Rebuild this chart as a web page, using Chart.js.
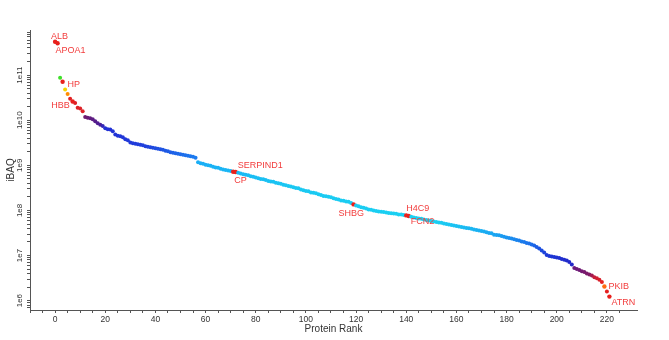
<!DOCTYPE html>
<html lang="en">
<head>
  <meta charset="UTF-8" />
  <title>iBAQ by Protein Rank</title>
  <script src="https://cdn.jsdelivr.net/npm/chart.js"></script>
  <style>
    body { margin: 0; padding: 0; background: #fff; }
    canvas { display: block; }
  </style>
</head>
<body>
  <canvas id="rankChart" width="669" height="340"></canvas>

  <script>
    // iBAQ per protein, ordered by rank (rank = index)
    const iBAQ = [
      5.5e11, 5.1e11, 8.7e10, 7.1e10, 4.8e10, 3.8e10, 3.0e10, 2.6e10, 2.4e10, 1.9e10, 1.82e10, 1.58e10,
      1.18e10, 1.14e10, 1.11e10, 1.05e10, 9.5e9, 8.6e9, 7.9e9, 7.4e9, 6.6e9, 6.3e9, 6.2e9, 5.7e9,
      4.8e9, 4.5e9, 4.4e9, 4.2e9, 3.8e9, 3.6e9, 3.2e9, 3.1e9, 3.0e9, 2.93e9, 2.86e9, 2.78e9,
      2.64e9, 2.58e9, 2.51e9, 2.45e9, 2.39e9, 2.33e9, 2.27e9, 2.21e9, 2.1e9, 2.05e9, 1.95e9, 1.9e9,
      1.85e9, 1.8e9, 1.75e9, 1.71e9, 1.67e9, 1.63e9, 1.58e9, 1.55e9, 1.47e9, 1.17e9, 1.11e9, 1.08e9,
      1.03e9, 1.0e9, 9.75e8, 9.3e8, 9.0e8, 8.8e8, 8.4e8, 8.1e8, 7.9e8, 7.7e8, 7.5e8, 7.2e8,
      7.1e8, 6.8e8, 6.6e8, 6.3e8, 6.15e8, 6.0e8, 5.7e8, 5.55e8, 5.4e8, 5.15e8, 5.0e8, 4.9e8,
      4.75e8, 4.5e8, 4.4e8, 4.3e8, 4.1e8, 4.0e8, 3.9e8, 3.7e8, 3.6e8, 3.5e8, 3.4e8, 3.25e8,
      3.15e8, 3.1e8, 2.9e8, 2.8e8, 2.7e8, 2.65e8, 2.5e8, 2.45e8, 2.4e8, 2.27e8, 2.2e8, 2.1e8,
      2.05e8, 2.0e8, 1.95e8, 1.85e8, 1.8e8, 1.75e8, 1.67e8, 1.63e8, 1.58e8, 1.55e8, 1.47e8, 1.36e8,
      1.29e8, 1.23e8, 1.17e8, 1.14e8, 1.11e8, 1.05e8, 1.03e8, 1.0e8, 9.75e7, 9.5e7, 9.3e7, 9.2e7,
      9.0e7, 8.8e7, 8.7e7, 8.6e7, 8.4e7, 8.15e7, 8.1e7, 7.9e7, 7.75e7, 7.55e7, 7.2e7, 7.0e7,
      6.8e7, 6.6e7, 6.5e7, 6.3e7, 6.15e7, 6.0e7, 5.85e7, 5.7e7, 5.55e7, 5.4e7, 5.3e7, 5.15e7,
      5.0e7, 4.9e7, 4.75e7, 4.65e7, 4.5e7, 4.4e7, 4.3e7, 4.2e7, 4.1e7, 4.0e7, 3.9e7, 3.8e7,
      3.7e7, 3.6e7, 3.5e7, 3.4e7, 3.3e7, 3.15e7, 3.1e7, 2.9e7, 2.85e7, 2.8e7, 2.7e7, 2.6e7,
      2.5e7, 2.45e7, 2.4e7, 2.3e7, 2.2e7, 2.15e7, 2.05e7, 2.0e7, 1.9e7, 1.85e7, 1.75e7, 1.67e7,
      1.55e7, 1.43e7, 1.29e7, 1.17e7, 1.03e7, 9.75e6, 9.5e6, 9.3e6, 9.0e6, 8.8e6, 8.4e6, 8.1e6,
      7.75e6, 7.2e6, 6.3e6, 5.3e6, 5.0e6, 4.75e6, 4.5e6, 4.3e6, 4.0e6, 3.8e6, 3.6e6, 3.3e6,
      3.15e6, 2.9e6, 2.6e6, 2.05e6, 1.6e6, 1.23e6
    ];

    const labelNames = ["ALB", "APOA1", "HP", "HBB", "SERPIND1", "CP", "SHBG", "H4C9", "FCN2", "PKIB", "ATRN"];
    const labelRanks = [0, 1, 3, 7, 72, 71, 119, 140, 141, 219, 221];

    const yTickValues = [1e6, 1e7, 1e8, 1e9, 1e10, 1e11];
    const yTickLabels = ["1e6", "1e7", "1e8", "1e9", "1e10", "1e11"];
    const xLabelValues = [0, 20, 40, 60, 80, 100, 120, 140, 160, 180, 200, 220];

    // where each label sits relative to its point
    const labelStyle = {
      ALB:      { dx: -4,  dy: -5,   align: "left" },
      APOA1:    { dx: -2,  dy: 7,    align: "left" },
      HP:       { dx: 5,   dy: 3,    align: "left" },
      HBB:      { dx: -3,  dy: 4,    align: "right" },
      SERPIND1: { dx: 2,   dy: -6.5, align: "left" },
      CP:       { dx: 1,   dy: 8.5,  align: "left" },
      SHBG:     { dx: -15, dy: 9,    align: "left" },
      H4C9:     { dx: 0,   dy: -7,   align: "left" },
      FCN2:     { dx: 2,   dy: 6,    align: "left" },
      PKIB:     { dx: 4,   dy: 0,    align: "left" },
      ATRN:     { dx: 2,   dy: 5.5,  align: "left" }
    };

    // rainbow-ish colouring along the rank
    const colorStops = [
      [0, "#e8201c"], [11, "#dc2228"], [12, "#6e1a70"], [18, "#4a1e96"], [20, "#2230d4"],
      [36, "#2040dc"], [56, "#1c7cf0"], [57, "#1aaef6"], [95, "#1ac8f2"], [150, "#1ad2f2"],
      [176, "#1aa4f2"], [190, "#1c6eea"], [196, "#1c3ad8"], [206, "#2228c8"], [207, "#6a1a7e"],
      [213, "#7e1a66"], [215, "#c41e3c"], [218, "#e42020"], [221, "#e42020"]
    ];
    const pointOverrides = { 2: "#3ee02a", 4: "#f5d400", 5: "#ff8c00", 219: "#ff6a10" };
    const highlightRed = "#e8201c";

    function hexToRgb(h) {
      return [parseInt(h.slice(1, 3), 16), parseInt(h.slice(3, 5), 16), parseInt(h.slice(5, 7), 16)];
    }

    function pointColor(i) {
      if (pointOverrides[i]) return pointOverrides[i];
      if (labelRanks.includes(i)) return highlightRed;
      for (let k = 0; k < colorStops.length - 1; k++) {
        const [r0, c0] = colorStops[k];
        const [r1, c1] = colorStops[k + 1];
        if (i >= r0 && i <= r1) {
          const t = r1 === r0 ? 0 : (i - r0) / (r1 - r0);
          const a = hexToRgb(c0), b = hexToRgb(c1);
          const m = a.map((v, j) => Math.round(v + (b[j] - v) * t));
          return `rgb(${m[0]},${m[1]},${m[2]})`;
        }
      }
      return colorStops[colorStops.length - 1][1];
    }

    const font = '"Liberation Sans", Arial, sans-serif';

    const annotate = {
      id: "annotate",
      afterDatasetsDraw(chart) {
        const ctx = chart.ctx;
        const pts = chart.getDatasetMeta(0).data;
        ctx.save();

        // protein names
        ctx.font = `9px ${font}`;
        ctx.fillStyle = "#f23c3c";
        ctx.textBaseline = "middle";
        labelNames.forEach((name, k) => {
          const p = pts[labelRanks[k]];
          const s = labelStyle[name];
          ctx.textAlign = s.align;
          ctx.fillText(name, p.x + s.dx, p.y + s.dy);
        });

        // rotated y tick labels
        const ys = chart.scales.y;
        ctx.font = `8px ${font}`;
        ctx.fillStyle = "#333";
        ctx.textAlign = "center";
        yTickValues.forEach((v, k) => {
          const py = ys.getPixelForValue(v);
          ctx.save();
          ctx.translate(ys.right - 10, py);
          ctx.rotate(-Math.PI / 2);
          ctx.fillText(yTickLabels[k], 0, 0);
          ctx.restore();
        });

        ctx.restore();
      }
    };

    const ctx = document.getElementById("rankChart").getContext("2d");

    new Chart(ctx, {
      type: "scatter",
      data: {
        datasets: [{
          data: iBAQ.map((v, i) => ({ x: i, y: v })),
          pointBackgroundColor: iBAQ.map((v, i) => pointColor(i)),
          pointBorderWidth: 0,
          pointRadius: iBAQ.map((v, i) => labelRanks.includes(i) ? 2.2 : 2)
        }]
      },
      options: {
        responsive: false,
        animation: false,
        layout: { padding: { top: 30, right: 32, left: 0, bottom: 0 } },
        plugins: {
          legend: { display: false },
          tooltip: { enabled: false }
        },
        scales: {
          x: {
            type: "linear",
            min: -10,
            max: 232,
            afterBuildTicks(scale) {
              scale.ticks = scale.ticks.filter(t => t.value % 5 === 0);
            },
            afterFit(scale) { scale.height = 30; },
            grid: { drawOnChartArea: false, tickLength: 3, tickColor: "#555" },
            border: { color: "#555", width: 1 },
            ticks: {
              stepSize: 5,
              autoSkip: false,
              maxRotation: 0,
              padding: 2,
              color: "#333",
              font: { family: font, size: 8.5 },
              callback: v => xLabelValues.includes(v) ? String(v) : ""
            },
            title: {
              display: true,
              text: "Protein Rank",
              color: "#333",
              font: { family: font, size: 10 },
              padding: { top: 0, bottom: 5 }
            }
          },
          y: {
            type: "logarithmic",
            min: 6.2e5,
            max: 1e12,
            afterBuildTicks(scale) {
              const ticks = [];
              for (let e = 5; e <= 11; e++) {
                for (let m = 1; m <= 9; m++) {
                  const v = m * Math.pow(10, e);
                  if (v >= scale.min && v <= scale.max) ticks.push({ value: v });
                }
              }
              scale.ticks = ticks;
            },
            afterFit(scale) { scale.width = 30; },
            grid: { drawOnChartArea: false, tickLength: 3, tickColor: "#555" },
            border: { color: "#555", width: 1 },
            ticks: { display: false },
            title: {
              display: true,
              text: "iBAQ",
              color: "#333",
              font: { family: font, size: 10 },
              padding: { top: 5, bottom: 0 }
            }
          }
        }
      },
      plugins: [annotate]
    });
  </script>
</body>
</html>
